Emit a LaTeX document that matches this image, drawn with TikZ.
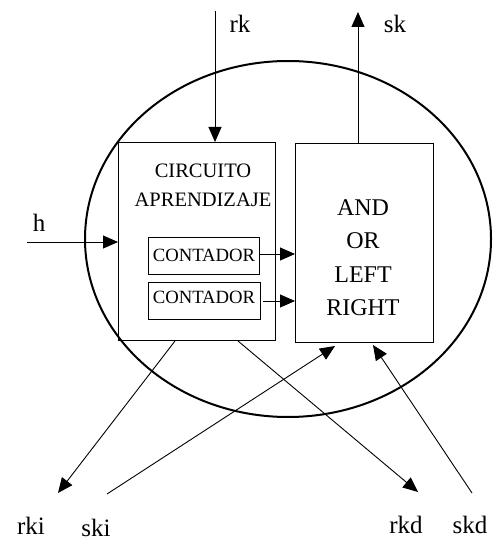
\documentclass[tikz,border=0pt]{standalone}
\usepackage{fontspec}
\setmainfont{Liberation Serif}
\usetikzlibrary{arrows.meta,calc}
\begin{document}
\begin{tikzpicture}[x=1pt,y=-1pt,
  arr/.style={line width=0.9pt,-{Triangle[length=15pt,width=13pt]}},
  ln/.style={line width=0.9pt},
  box/.style={draw,line width=1pt,inner sep=0pt,anchor=north west},
  lbl/.style={font=\fontsize{25}{25}\selectfont,anchor=base,inner sep=0pt},
  txt/.style={anchor=base,inner sep=0pt}]
\useasboundingbox (0,0) rectangle (500,540);
% boundary ellipse
\draw[line width=2pt] (288,239) ellipse [x radius=203, y radius=178];
% boxes
\node[box,minimum width=157pt,minimum height=198pt] (lb) at (118,142) {};
\node[box,minimum width=138pt,minimum height=199pt] (rb) at (295,143) {};
\node[box,minimum width=111pt,minimum height=37pt] (c1) at (148,237) {};
\node[box,minimum width=112pt,minimum height=37pt] (c2) at (148,282) {};
% texts
\node[txt,font=\fontsize{20.5}{20.5}\selectfont] (t1) at (203,177) {CIRCUITO};
\node[txt,font=\fontsize{20.5}{20.5}\selectfont] (t2) at (203,206) {APRENDIZAJE};
\node[txt,font=\fontsize{18.7}{18.7}\selectfont] (t3) at (204,261) {CONTADOR};
\node[txt,font=\fontsize{18.7}{18.7}\selectfont] (t4) at (204,303) {CONTADOR};
\node[txt,font=\fontsize{24}{24}\selectfont] (a1) at (363,215) {AND};
\node[txt,font=\fontsize{24}{24}\selectfont] (a2) at (363,248) {OR};
\node[txt,font=\fontsize{24}{24}\selectfont] (a3) at (363,282) {LEFT};
\node[txt,font=\fontsize{24}{24}\selectfont] (a4) at (363,315) {RIGHT};
% labels
\node[lbl] (rk) at (240,33) {rk};
\node[lbl] (sk) at (395,33) {sk};
\node[lbl] (h) at (39,231) {h};
\node[lbl] (rki) at (31,534) {rki};
\node[lbl] (ski) at (96,536) {ski};
\node[lbl] (rkd) at (406,533) {rkd};
\node[lbl] (skd) at (470,533) {skd};
% free ends
\coordinate (rkT) at (215,11);
\coordinate (skT) at (358,12);
\coordinate (hL) at (27,242);
\coordinate (rkiE) at (58,493);
\coordinate (skiE) at (107,494);
\coordinate (rkdE) at (418,492);
\coordinate (skdE) at (472,493);
% connectors
\draw[arr] (rkT) -- (rkT |- lb.north);
\draw[arr] (skT |- rb.north) -- (skT);
\draw[arr] (hL) -- (hL -| lb.west);
\draw[arr] (c1.east |- 0,254) -- (rb.west |- 0,254);
\draw[arr] ($(c2.east)+(2,0)$) -- (rb.west |- c2.east);
\draw[arr] (lb.south -| 175,0) -- (rkiE);
\draw[arr] (lb.south -| 238,0) -- (rkdE);
\draw[arr] (skiE) -- ($(rb.south -| 335,0)+(0,3)$);
\draw[arr] (skdE) -- ($(rb.south -| 373,0)+(0,2)$);
\end{tikzpicture}
\end{document}
